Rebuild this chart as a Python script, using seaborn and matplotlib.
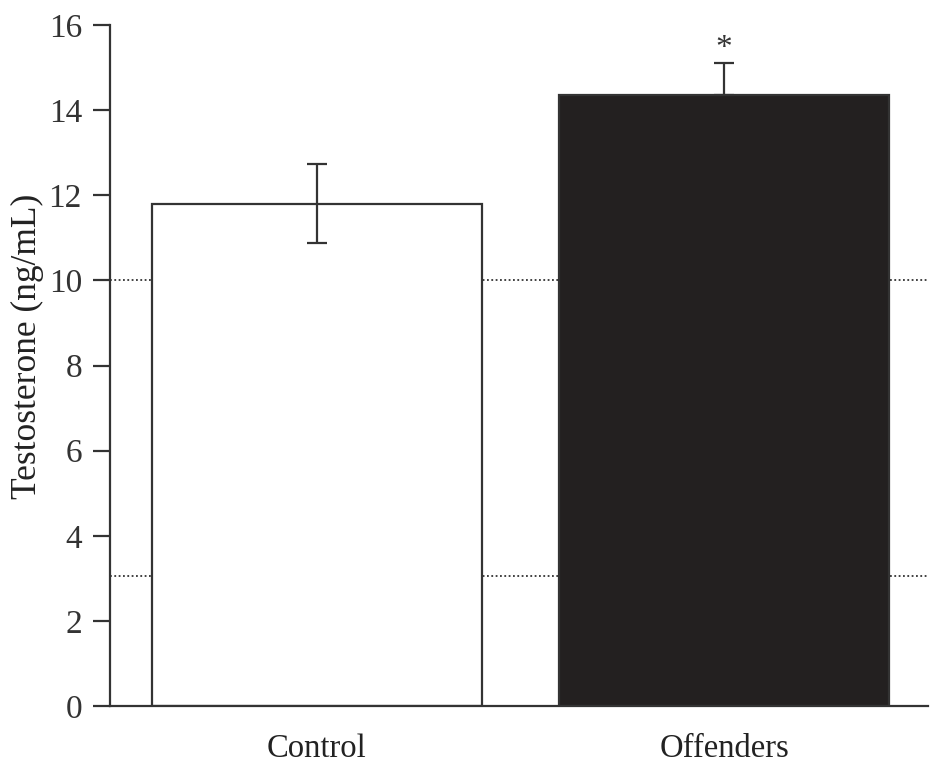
import matplotlib
matplotlib.use("Agg")
import matplotlib.pyplot as plt
import seaborn as sns
import pandas as pd

# datos
grupos = ["Control", "Offenders"]
medias = [11.8, 14.35]
error_inf = [0.93, 0.0]
error_sup = [0.93, 0.77]
lineas_ref = [10.0, 3.05]

sns.set_theme(style="white")
plt.rcParams["font.family"] = ["Liberation Serif", "DejaVu Serif"]

df = pd.DataFrame({"grupo": grupos, "media": medias})

fig = plt.figure(figsize=(9.3, 7.64), dpi=100)
ax = fig.add_axes([0.118, 0.076, 0.880, 0.891])

color_linea = "#333333"
# lineas punteadas de referencia detras de las barras
for y in lineas_ref:
    ax.axhline(y, color=color_linea, linestyle=(0, (1, 1.4)), linewidth=1.3, zorder=0)

sns.barplot(data=df, x="grupo", y="media", hue="grupo", palette=["white", "#231f20"],
            width=0.81, edgecolor=color_linea, linewidth=1.6, legend=False,
            errorbar=None, ax=ax, zorder=2)

ax.errorbar(x=[0, 1], y=medias, yerr=[error_inf, error_sup], fmt="none",
            ecolor=color_linea, elinewidth=1.6, capsize=7, capthick=1.6, zorder=3)

# asterisco de significancia
ax.annotate("*", xy=(1, medias[1] + error_sup[1]), xytext=(0, -1),
            textcoords="offset points", ha="center", va="bottom",
            fontsize=24, color=color_linea)

ax.set_ylim(0, 16)
ax.set_xlim(-0.509, 1.501)
ax.set_yticks(range(0, 17, 2))
ax.set_xlabel("")
ax.set_ylabel("Testosterone (ng/mL)", fontsize=25.5, color="#222222")
ax.yaxis.set_label_coords(-0.080, 0.528)

ax.tick_params(axis="y", direction="out", length=12, width=1.6, color=color_linea,
               labelsize=24, labelcolor="#333333", pad=8, left=True)
ax.tick_params(axis="x", length=0, labelsize=23.5, labelcolor="#222222", pad=20)

sns.despine(ax=ax, top=True, right=True)
for lado in ["left", "bottom"]:
    ax.spines[lado].set_color(color_linea)
    ax.spines[lado].set_linewidth(1.6)

fig.savefig("out.png", dpi=100)
